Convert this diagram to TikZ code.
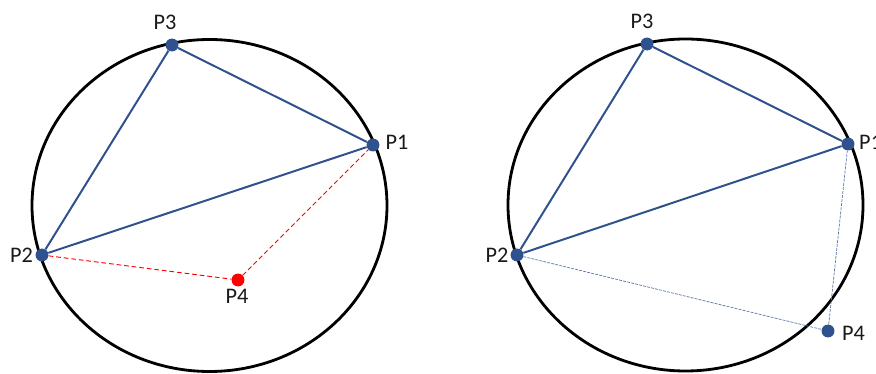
\documentclass[tikz,border=0pt]{standalone}
\usepackage{fontspec}
\setmainfont{Carlito}
\definecolor{ptblue}{RGB}{47,82,143}
\definecolor{ptred}{RGB}{255,0,0}
\begin{document}
\begin{tikzpicture}[x=0.03cm,y=-0.03cm,
  dot/.style={circle,fill=ptblue,inner sep=0pt,minimum size=11pt},
  reddot/.style={circle,fill=ptred,inner sep=0pt,minimum size=11pt},
  lbl/.style={inner sep=0pt,font=\fontsize{19}{22}\selectfont,text=black!90},
  edge/.style={ptblue,line width=1.7pt},
  reddash/.style={ptred,line width=0.8pt,dash pattern=on 4pt off 2.5pt},
  bluedash/.style={ptblue!80,line width=0.6pt,dash pattern=on 2.5pt off 1pt}]
\clip (0,0) rectangle (876,374);
% left: P4 inside the circle
\draw[line width=2.4pt] (209.5,205.5) ellipse [x radius=177.5, y radius=166];
\node[dot] (a1) at (373,145) {};
\node[dot] (a2) at (42,255) {};
\node[dot] (a3) at (172,45) {};
\node[reddot] (a4) at (238,280) {};
\draw[edge] (a1) -- (a2) -- (a3) -- (a1);
\draw[reddash] (a2) -- (a4) -- (a1);
\node[lbl] (a1l) at (397,142) {P1};
\node[lbl] (a2l) at (21.5,255) {P2};
\node[lbl] (a3l) at (165,22) {P3};
\node[lbl] (a4l) at (237,296) {P4};
% right: P4 outside the circle
\draw[line width=2.4pt] (685.5,205) ellipse [x radius=177.5, y radius=166];
\node[dot] (b1) at (848,144) {};
\node[dot] (b2) at (517,255) {};
\node[dot] (b3) at (647,44) {};
\node[dot] (b4) at (828,331) {};
\draw[edge] (b1) -- (b2) -- (b3) -- (b1);
\draw[bluedash] (b2) -- (b4) -- (b1);
\node[lbl,anchor=west] (b1l) at (859,142) {P1};
\node[lbl] (b2l) at (497,255) {P2};
\node[lbl] (b3l) at (642,21) {P3};
\node[lbl] (b4l) at (853.5,333) {P4};
\end{tikzpicture}
\end{document}
